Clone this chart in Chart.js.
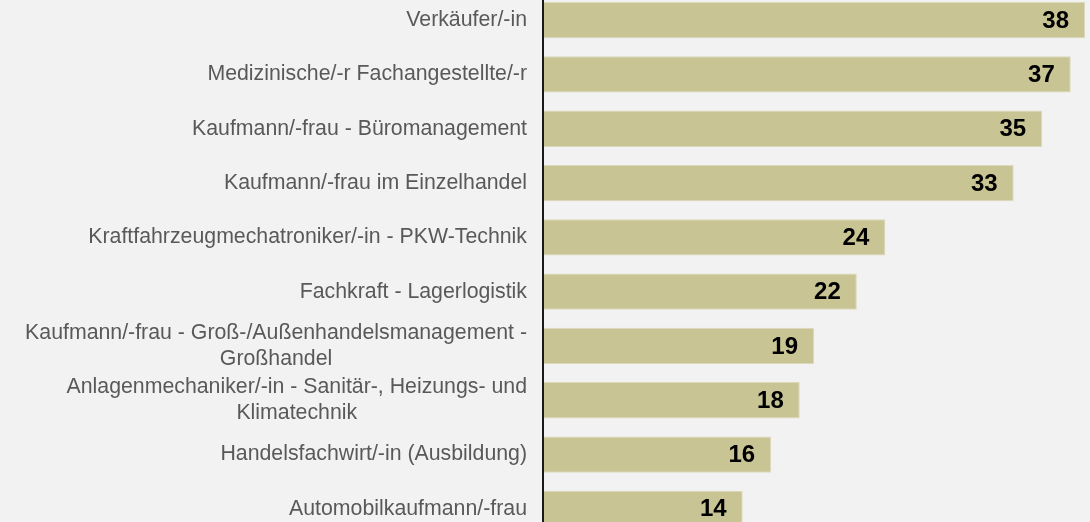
<!DOCTYPE html>
<html>
<head>
<meta charset="utf-8">
<script src="https://cdn.jsdelivr.net/npm/chart.js@4/dist/chart.umd.min.js"></script>
<style>
  html, body { margin: 0; padding: 0; background: #f2f2f2; overflow: hidden; width: 1090px; height: 522px; }
  #wrap { position: absolute; left: 0; top: -7px; width: 1090px; height: 543px; }
</style>
</head>
<body>
<div id="wrap"><canvas id="c"></canvas></div>
<script>
const categories = [
  "Verkäufer/-in",
  "Medizinische/-r Fachangestellte/-r",
  "Kaufmann/-frau - Büromanagement",
  "Kaufmann/-frau im Einzelhandel",
  "Kraftfahrzeugmechatroniker/-in - PKW-Technik",
  "Fachkraft - Lagerlogistik",
  ["Kaufmann/-frau - Groß-/Außenhandelsmanagement -", "Großhandel"],
  ["Anlagenmechaniker/-in - Sanitär-, Heizungs- und", "Klimatechnik"],
  "Handelsfachwirt/-in (Ausbildung)",
  "Automobilkaufmann/-frau"
];
const values = [38, 37, 35, 33, 24, 22, 19, 18, 16, 14];
const xMin = 0;
const xMax = 38;

const FONT = '"Liberation Sans", Arial, sans-serif';

const categoryLabels = {
  id: 'categoryLabels',
  afterDraw(chart) {
    const ctx = chart.ctx;
    const ys = chart.scales.y;
    ctx.save();
    ctx.font = '21.3px ' + FONT;
    ctx.fillStyle = '#595959';
    ctx.textAlign = 'center';
    ctx.textBaseline = 'middle';
    const lh = 26.4;
    categories.forEach((lab, i) => {
      const lines = Array.isArray(lab) ? lab : [lab];
      const w = Math.max(...lines.map(l => ctx.measureText(l).width));
      const cx = ys.right - 16 - w / 2;
      const y = ys.getPixelForTick(i);
      lines.forEach((l, j) => {
        ctx.fillText(l, cx, y + (j - (lines.length - 1) / 2) * lh);
      });
    });
    ctx.restore();
  }
};

const valueLabels = {
  id: 'valueLabels',
  afterDatasetsDraw(chart) {
    const ctx = chart.ctx;
    const meta = chart.getDatasetMeta(0);
    ctx.save();
    ctx.font = 'bold 24px ' + FONT;
    ctx.fillStyle = '#000000';
    ctx.textAlign = 'right';
    ctx.textBaseline = 'middle';
    meta.data.forEach((bar, i) => {
      ctx.fillText(String(values[i]), bar.x - 16, bar.y + 1);
    });
    ctx.restore();
  }
};

new Chart(document.getElementById('c'), {
  type: 'bar',
  data: {
    labels: categories,
    datasets: [{
      data: values,
      backgroundColor: '#c9c493',
      borderColor: '#dcd8ba',
      borderWidth: 1,
      borderSkipped: false,
      categoryPercentage: 1,
      barPercentage: 0.668
    }]
  },
  options: {
    indexAxis: 'y',
    responsive: true,
    maintainAspectRatio: false,
    animation: false,
    layout: { padding: { left: 0, right: 5, top: 0, bottom: 0 } },
    plugins: { legend: { display: false }, tooltip: { enabled: false }, title: { display: false } },
    scales: {
      x: { display: false, min: xMin, max: xMax },
      y: {
        display: true,
        grid: { display: false, drawTicks: false },
        border: { display: true, color: '#1a1a1a', width: 2, z: 1 },
        ticks: { display: false },
        afterFit(scale) { scale.width = 543; }
      }
    }
  },
  plugins: [categoryLabels, valueLabels]
});
</script>
</body>
</html>
